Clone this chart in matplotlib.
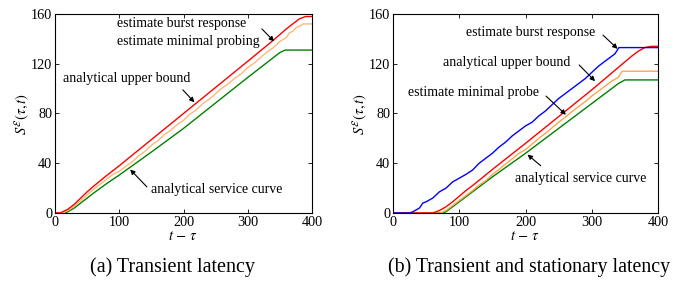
import matplotlib
matplotlib.use("Agg")
import matplotlib.pyplot as plt

plt.rcParams['font.family'] = ['Liberation Serif', 'DejaVu Serif']
plt.rcParams['mathtext.fontset'] = 'stix'

# ---------------- Panel (a) data ----------------
a_red_x = [0, 8, 20, 30, 40, 50, 60, 80, 100, 150, 200, 250, 300, 340, 360, 380, 390, 400]
a_red_y = [0, 0, 3, 7, 12, 17, 21.5, 30, 38, 59, 80, 101, 122, 139, 148, 156, 158, 158]

a_green_x = [0, 15, 20, 30, 40, 50, 60, 80, 100, 150, 200, 250, 300, 340, 350, 358, 400]
a_green_y = [0, 0, 1, 4, 8, 12, 16, 23.5, 30.5, 49, 68, 88.5, 109, 125, 129, 131, 131]

a_orange_x = [0, 12, 20, 30, 40, 50, 60, 70, 80, 90, 100, 110, 120, 130, 140, 150, 160, 170,
              180, 190, 200, 210, 220, 230, 240, 250, 260, 270, 280, 290, 300, 310, 320, 330,
              340, 350, 360, 365, 370, 375, 380, 386, 400]
a_orange_y = [0, 0, 2, 5.5, 10, 14.5, 19, 23, 27, 31, 33.5, 37.5, 41, 46, 49.5, 54.5, 58, 63,
              66.5, 71, 74.5, 79.5, 83, 88, 91.5, 96, 100.5, 104, 108.5, 112, 117, 120.5, 125, 129.5,
              133, 138, 141, 145, 146, 149, 150, 152, 152]

# ---------------- Panel (b) data ----------------
b_blue_x = [0, 25, 30, 40, 45, 50, 60, 70, 80, 90, 100, 110, 120, 130, 140, 150, 160, 170,
            180, 190, 200, 210, 220, 230, 240, 250, 260, 270, 280, 290, 300, 310, 320, 330,
            335, 341, 400]
b_blue_y = [0, 0, 1, 4, 8, 9, 12, 17, 20, 25, 28, 31, 34.5, 40, 44, 48, 53, 57,
            62, 66, 70, 73, 78, 82, 87, 92, 96, 100, 104, 108, 113, 118, 122, 126,
            128, 133, 133]

b_red_x = [0, 60, 70, 80, 90, 100, 110, 120, 150, 200, 250, 300, 340, 360, 370, 380, 390, 400]
b_red_y = [0, 0, 2, 5, 9, 13.5, 18, 22, 35, 56, 77.5, 99, 117, 126, 130, 133, 134, 134]

b_orange_x = [0, 72, 80, 90, 100, 110, 120, 130, 140, 150, 160, 170, 180, 190, 200, 210, 220,
              230, 240, 250, 260, 270, 280, 290, 300, 310, 320, 330, 340, 346, 400]
b_orange_y = [0, 0, 2, 6, 10, 14, 18, 22.5, 26, 31, 35, 39.5, 43.5, 48, 51, 55.5, 60,
              64, 68.5, 73, 77, 81.5, 85.5, 89.5, 94, 98, 102, 106, 109, 114, 114]

b_green_x = [0, 75, 80, 90, 100, 120, 150, 200, 250, 300, 340, 350, 400]
b_green_y = [0, 0, 1, 5, 9, 17, 29, 48, 68, 88, 104, 107, 107]

x_ticks = [0, 100, 200, 300, 400]
y_ticks = [0, 40, 80, 120, 160]

RED = '#ff0000'
GREEN = '#008000'
BLUE = '#0000ff'
ORANGE_A = '#ffb878'
ORANGE_B = '#ffa64d'

fig = plt.figure(figsize=(6.76, 2.87), dpi=100)
ax1 = fig.add_axes([55/676, 1-213/287, 257/676, 199/287])
ax2 = fig.add_axes([393/676, 1-213/287, 265/676, 199/287])

lw = 1.0
ax1.plot(a_green_x, a_green_y, color=GREEN, lw=lw)
ax1.plot(a_orange_x, a_orange_y, color=ORANGE_A, lw=lw)
ax1.plot(a_red_x, a_red_y, color=RED, lw=lw)

ax2.plot(b_green_x, b_green_y, color=GREEN, lw=lw)
ax2.plot(b_orange_x, b_orange_y, color=ORANGE_B, lw=lw)
ax2.plot(b_red_x, b_red_y, color=RED, lw=lw)
ax2.plot(b_blue_x, b_blue_y, color=BLUE, lw=lw)

fs_tick = 10.3
fs_ann = 10
for ax in (ax1, ax2):
    ax.set_xlim(0, 400)
    ax.set_ylim(0, 160)
    ax.set_xticks(x_ticks)
    ax.set_yticks(y_ticks)
    ax.tick_params(direction='in', top=True, right=True, labelsize=fs_tick, length=3, width=0.6, pad=2)
    for s in ax.spines.values():
        s.set_linewidth(0.8)
    ax.set_xlabel(r'$t\,-\,\tau$', fontsize=10.5, labelpad=1)
    ax.set_ylabel(r'$S^{\mathcal{E}}(\tau,t)$', fontsize=10.5, labelpad=0)

ap = dict(arrowstyle='-|>', color='k', lw=0.8, mutation_scale=7, shrinkA=0, shrinkB=0)

# Panel (a) annotations
ax1.text(96, 152, 'estimate burst response', fontsize=fs_ann, va='center', ha='left')
ax1.text(96, 138, 'estimate minimal probing', fontsize=fs_ann, va='center', ha='left')
ax1.annotate('', xy=(341, 138), xytext=(322, 148), arrowprops=ap)
ax1.text(12, 108, 'analytical upper bound', fontsize=fs_ann, va='center', ha='left')
ax1.annotate('', xy=(217, 89), xytext=(199, 99), arrowprops=ap)
ax1.text(149, 19, 'analytical service curve', fontsize=fs_ann, va='center', ha='left')
ax1.annotate('', xy=(117, 35), xytext=(143, 21), arrowprops=ap)

# Panel (b) annotations
ax2.text(110, 145, 'estimate burst response', fontsize=fs_ann, va='center', ha='left')
ax2.annotate('', xy=(339, 132), xytext=(317, 143), arrowprops=ap)
ax2.text(75, 121, 'analytical upper bound', fontsize=fs_ann, va='center', ha='left')
ax2.annotate('', xy=(305, 106), xytext=(281, 119), arrowprops=ap)
ax2.text(23, 97, 'estimate minimal probe', fontsize=fs_ann, va='center', ha='left')
ax2.annotate('', xy=(261, 79), xytext=(231, 94), arrowprops=ap)
ax2.text(184, 28, 'analytical service curve', fontsize=fs_ann, va='center', ha='left')
ax2.annotate('', xy=(203, 47), xytext=(223, 38), arrowprops=ap)

fig.text(172/676, 1-267/287, '(a) Transient latency', fontsize=14.5, ha='center', va='center')
fig.text(529/676, 1-267/287, '(b) Transient and stationary latency', fontsize=14.3, ha='center', va='center')

fig.savefig('out.png', dpi=100)
